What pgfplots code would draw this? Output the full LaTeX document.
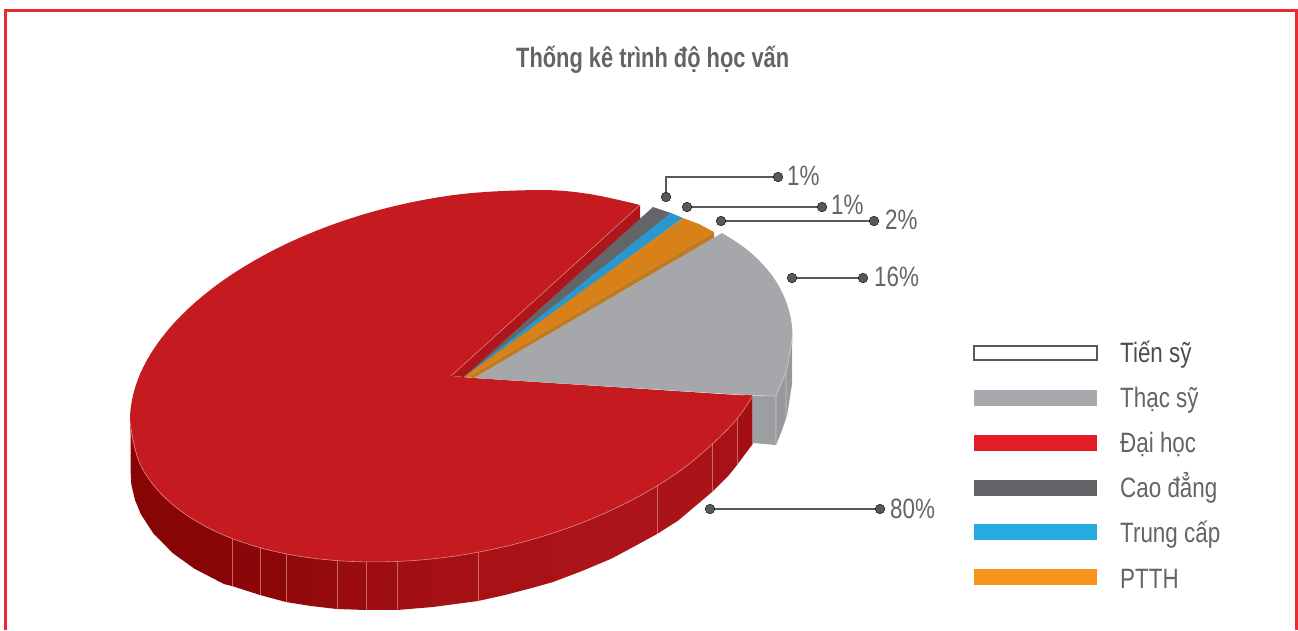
\documentclass[border=0pt]{standalone}
\usepackage{pgfplots}
\pgfplotsset{compat=1.18}
\usepackage{fontspec}
\setmainfont{Liberation Sans}[FakeStretch=0.8]
\newfontfamily\titlefont{Liberation Sans}[FakeStretch=0.78]
\definecolor{frame}{HTML}{EE2A30}
\definecolor{redtop}{HTML}{C41A20}
\definecolor{redin}{HTML}{AF161C}
\definecolor{rim}{HTML}{E08A8A}
\definecolor{slate}{HTML}{636569}
\definecolor{bluetop}{HTML}{2A98CD}
\definecolor{orangetop}{HTML}{D98119}
\definecolor{orangein}{HTML}{C17A1E}
\definecolor{graytop}{HTML}{A6A7AA}
\definecolor{graycut}{HTML}{9D9EA2}
\definecolor{grayside}{HTML}{97989C}
\definecolor{ink}{HTML}{58595B}
\definecolor{txt}{HTML}{636466}
\tikzset{lab/.style={anchor=base west,inner sep=0pt,font=\fontsize{28}{28}\selectfont,text=txt}}
\begin{document}
\begin{tikzpicture}
% hide axis leaves the box to the ink alone, so fix it here
\useasboundingbox (0,0) rectangle (1298pt,630pt);
\begin{axis}[
  at={(0,0)}, anchor=south west,
  width=1298pt, height=630pt, scale only axis,
  xmin=0, xmax=1298, ymin=0, ymax=630, y dir=reverse,
  hide axis, unbounded coords=jump, tension=0.6]

% side of the big slice, left to right
\addplot[fill={rgb,255:red,135;green,5;blue,5},draw=none] coordinates {(130.5,420)(232,525)(232,586)(224,584)(194.6,568.8)(173,553.3)(153.4,533.5)(140.9,514.3)(135,500)(131.3,484.5)(130.5,469)};
\addplot[fill={rgb,255:red,138;green,6;blue,8},draw=none] coordinates {(232,530)(260,530)(260,595)(232,586)};
\addplot[fill={rgb,255:red,141;green,7;blue,9},draw=none] coordinates {(260,530)(286,530)(286,602)(260,595)};
\addplot[fill={rgb,255:red,145;green,10;blue,11},draw=none] coordinates {(286,530)(311,530)(311,606)(286,602)};
\addplot[fill={rgb,255:red,150;green,11;blue,13},draw=none] coordinates {(311,530)(337,530)(337,609)(311,606)};
\addplot[fill={rgb,255:red,154;green,13;blue,15},draw=none] coordinates {(337,530)(366,530)(366,610)(337,609)};
\addplot[fill={rgb,255:red,158;green,14;blue,16},draw=none] coordinates {(366,530)(397,530)(397,610)(366,610)};
\addplot[fill={rgb,255:red,162;green,15;blue,18},draw=none] coordinates {(397,530)(433,530)(433,607)(397,610)};
\addplot[fill={rgb,255:red,165;green,17;blue,20},draw=none] coordinates {(433,530)(478,530)(478,601)(433,607)};
\addplot[fill={rgb,255:red,168;green,18;blue,22},draw=none] coordinates {(478,530)(553,510)(553,582)(534,587.4)(505,595)(478,601)};
\addplot[fill={rgb,255:red,173;green,20;blue,25},draw=none] coordinates {(553,510)(657,465)(657,534)(635,546)(611.5,558.6)(582,571)(553,582)};
\addplot[fill={rgb,255:red,170;green,19;blue,24},draw=none] coordinates {(657,465)(712,425)(712,492)(678,520.7)(657,534)};
\addplot[fill={rgb,255:red,168;green,18;blue,22},draw=none] coordinates {(712,425)(737,400)(737,465)(729,475)(712,492)};
\addplot[fill={rgb,255:red,163;green,15;blue,18},draw=none] coordinates {(737,400)(752.7,390)(752.7,444)(737,465)};

% seams on the side
\addplot[draw=rim,line width=0.5pt,opacity=0.7] coordinates {
(232,530)(232,586)(232,nan)(260,530)(260,595)(260,nan)(286,530)(286,602)(286,nan)
(337,530)(337,609)(337,nan)(366,530)(366,610)(366,nan)(397,530)(397,610)(397,nan)
(478,530)(478,601)(478,nan)(657,465)(657,534)(657,nan)(712,425)(712,492)(712,nan)(737,400)(737,465)};

% top face of the big slice: upper arc, lower arc, middle
\addplot[fill=redtop,draw=none,smooth] coordinates {
(640,205)(586.7,193.6)(534.1,190.1)(451,195.4)(367.9,213.1)(290.5,241.9)(224,279.8)(173,324.2)(140.9,372.2)(130,420.5)(140.9,465.8)};
\addplot[fill=redtop,draw=none,smooth] coordinates {
(140.9,372.2)(130,420.5)(140.9,465.8)(173,504.8)(224,535.2)(290.5,554.7)(367.9,561.9)(451,556.6)(534.1,538.9)(611.5,510.1)(678,472.2)(729,427.8)(752.7,396)};
\addplot[fill=redtop,draw=none] coordinates {(640,205)(400,215)(130,420.5)(400,540)(752.7,396)(474,378)(451,376)};
\addplot[draw=rim,line width=0.6pt,smooth] coordinates {
(130,420.5)(140.9,465.8)(173,504.8)(224,535.2)(290.5,554.7)(367.9,561.9)(451,556.6)(534.1,538.9)(611.5,510.1)(678,472.2)(729,427.8)(752.7,396)};

% inner wall of the big slice, then the small slices
\addplot[fill=redin,draw=none] coordinates {(451,376)(640,205)(640,222)(465,377)};
\addplot[draw=rim,line width=0.5pt] coordinates {(451,376)(640,205)};
\addplot[fill=slate,draw=none] coordinates {(464,377)(653,207)(671,213)(466,377)};
\addplot[fill=bluetop,draw=none] coordinates {(464,377)(671,213)(683,218)(467,377)};
\addplot[fill=orangetop,draw=none] coordinates {(464,377)(683,218)(699,224)(714,232)(468,377)};
\addplot[fill=orangein,draw=none] coordinates {(468,377)(714,232)(714,238)(474,378)};

% grey slice
\addplot[fill=grayside,draw=none] coordinates {(792,335)(787,368)(782,380)(776,394)(776,445)(782,430)(787,416)(792,384)};
\addplot[fill=graycut,draw=none] coordinates {(752.7,395.5)(776,396)(776,445)(752.7,443)};
\addplot[fill=graytop,draw=none,smooth] coordinates {(722,233)(749,251.2)(772.7,276.4)(787.2,304.8)(792.5,335.5)(787.2,367.6)(782.4,380.5)(776,396)};
\addplot[fill=graytop,draw=none] coordinates {(474,378)(722,233)(770,315)(776,396)(752.7,395.5)};
\addplot[draw=white,opacity=0.45,line width=0.6pt] coordinates {(752.7,395.5)(776,396)(776,445)(776,nan)(786,372)(786,421)};
\addplot[draw=white,opacity=0.45,line width=0.6pt,smooth] coordinates {(776,396)(782.4,380.5)(787.2,367.6)(792.5,335.5)};

% callouts
\addplot[draw=ink,line width=1.5pt] coordinates {
(778,177)(666,177)(666,197)(666,nan)
(687,207)(822,207)(822,nan)
(721,221)(874,221)(874,nan)
(792,278)(863,278)(863,nan)
(710,509)(880,509)};
\addplot[only marks,mark=*,mark size=4.8pt,mark options={fill=ink,draw=none}] coordinates {
(778,177)(666,197)(687,207)(822,207)(721,221)(874,221)(792,278)(863,278)(710,509)(880,509)};
\node[lab] at (axis cs:787,185) {1\%};
\node[lab] at (axis cs:831,214) {1\%};
\node[lab] at (axis cs:885,229) {2\%};
\node[lab] at (axis cs:874,286) {16\%};
\node[lab] at (axis cs:890,518) {80\%};

% legend
\addplot[fill=white,draw=ink,line width=1.3pt] coordinates {(974,346)(1097,346)(1097,360)(974,360)} --cycle;
\addplot[fill={rgb,255:red,167;green,169;blue,172},draw=none] coordinates {(974,390)(1097,390)(1097,406)(974,406)};
\addplot[fill={rgb,255:red,227;green,30;blue,38},draw=none] coordinates {(974,435)(1097,435)(1097,451)(974,451)};
\addplot[fill={rgb,255:red,98;green,99;blue,102},draw=none] coordinates {(974,480)(1097,480)(1097,496)(974,496)};
\addplot[fill={rgb,255:red,39;green,170;blue,225},draw=none] coordinates {(974,524)(1097,524)(1097,540)(974,540)};
\addplot[fill={rgb,255:red,247;green,148;blue,29},draw=none] coordinates {(974,569)(1097,569)(1097,585)(974,585)};
\node[lab,text=ink!85!black] at (axis cs:1120,362) {Tiến sỹ};
\node[lab] at (axis cs:1120,407) {Thạc sỹ};
\node[lab] at (axis cs:1120,452) {Đại học};
\node[lab] at (axis cs:1120,497) {Cao đẳng};
\node[lab] at (axis cs:1120,542) {Trung cấp};
\node[lab] at (axis cs:1120,588) {PTTH};

% title and frame
\node[lab,font=\fontsize{28}{28}\selectfont\titlefont\bfseries] at (axis cs:516,67) {Thống kê trình độ học vấn};
\addplot[draw=frame,line width=3pt] coordinates {(5.5,630)(5.5,10.7)(1296.5,10.7)(1296.5,630)};
\end{axis}
\end{tikzpicture}
\end{document}
